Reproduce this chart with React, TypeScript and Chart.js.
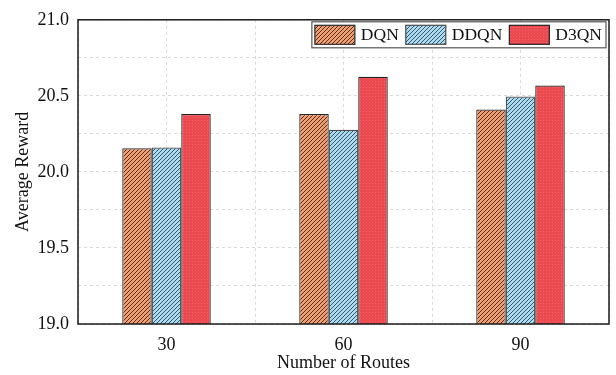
import React, { useEffect, useRef } from 'react';
import { Chart, registerables } from 'chart.js';

Chart.register(...registerables);

// Number of routes on the x axis
const routeCounts = ['30', '60', '90'];
// Average reward per method
const dqnRewards = [20.155, 20.38, 20.41];
const ddqnRewards = [20.16, 20.277, 20.495];
const d3qnRewards = [20.38, 20.626, 20.568];
const seriesNames = ['DQN', 'DDQN', 'D3QN'];
// Reward axis range and step
const rewardMin = 19.0;
const rewardMax = 21.0;
const rewardStep = 0.25;

const FONT = "'Liberation Serif', 'Times New Roman', serif";
const GRID = '#dadada';
const INK = '#111111';

function stripePattern(base: string, ink: string, size: number): CanvasPattern | string {
  const c = document.createElement('canvas');
  c.width = size;
  c.height = size;
  const g = c.getContext('2d');
  if (!g) return base;
  g.fillStyle = base;
  g.fillRect(0, 0, size, size);
  g.strokeStyle = ink;
  g.lineWidth = 1;
  g.beginPath();
  for (const k of [-size, 0, size]) {
    g.moveTo(k, size);
    g.lineTo(k + size, 0);
  }
  g.stroke();
  return g.createPattern(c, 'repeat') || base;
}

function dotPattern(base: string, dot: string, size: number): CanvasPattern | string {
  const c = document.createElement('canvas');
  c.width = size;
  c.height = size;
  const g = c.getContext('2d');
  if (!g) return base;
  g.fillStyle = base;
  g.fillRect(0, 0, size, size);
  g.fillStyle = dot;
  g.fillRect(0, 0, 1, 1);
  return g.createPattern(c, 'repeat') || base;
}

// Outline around the plotting area
const framePlugin = {
  id: 'frame',
  afterDraw(chart: any) {
    const { ctx, chartArea: a } = chart;
    ctx.save();
    ctx.strokeStyle = '#1a1a1a';
    ctx.lineWidth = 1.5;
    ctx.strokeRect(a.left, a.top, a.right - a.left, a.bottom - a.top);
    ctx.restore();
  },
};

// Boxed legend in the top-right corner of the plot
const boxLegendPlugin = {
  id: 'boxLegend',
  afterDraw(chart: any) {
    const { ctx, chartArea: a } = chart;
    const sets = chart.data.datasets;
    ctx.save();
    ctx.font = `17.5px ${FONT}`;
    const sw = 40;
    const sh = 19;
    const gapText = 6;
    const gapItem = 7;
    const padL = 3;
    const padR = 4;
    const widths = sets.map((d: any) => ctx.measureText(d.label).width);
    let total = padL + padR;
    widths.forEach((w: number, i: number) => {
      total += sw + gapText + w + (i < widths.length - 1 ? gapItem : 0);
    });
    const right = a.right - 3;
    const top = a.top + 2;
    const h = 26;
    const left = right - total;
    ctx.fillStyle = '#ffffff';
    ctx.fillRect(left, top, total, h);
    ctx.strokeStyle = '#555555';
    ctx.lineWidth = 1.2;
    ctx.strokeRect(left, top, total, h);
    let x = left + padL;
    const sy = top + (h - sh) / 2;
    sets.forEach((d: any, i: number) => {
      ctx.fillStyle = d.backgroundColor;
      ctx.fillRect(x, sy, sw, sh);
      ctx.strokeStyle = d.borderColor;
      ctx.lineWidth = 1.2;
      ctx.strokeRect(x, sy, sw, sh);
      ctx.fillStyle = INK;
      ctx.textBaseline = 'middle';
      ctx.textAlign = 'left';
      ctx.fillText(d.label, x + sw + gapText, top + h / 2 + 1);
      x += sw + gapText + widths[i] + gapItem;
    });
    ctx.restore();
  },
};

export default function App() {
  const ref = useRef<HTMLCanvasElement | null>(null);

  useEffect(() => {
    const canvas = ref.current;
    if (!canvas) return;
    Chart.defaults.font.family = FONT;
    const fills = [
      stripePattern('#f29d70', 'rgba(40,25,20,0.8)', 4),
      stripePattern('#a9dbf4', 'rgba(30,40,50,0.75)', 4),
      dotPattern('#ea4a50', '#ef6469', 3),
    ];
    const values = [dqnRewards, ddqnRewards, d3qnRewards];
    const borders = ['#2b2b2b', '#4a4a4a', '#222222'];

    const chart = new Chart(canvas, {
      type: 'bar',
      data: {
        labels: routeCounts,
        datasets: seriesNames.map((name, i) => ({
          label: name,
          data: values[i],
          backgroundColor: fills[i] as any,
          borderColor: borders[i],
          borderWidth: 1.2,
          borderSkipped: 'bottom',
          categoryPercentage: 0.5,
          barPercentage: 1.0,
        })),
      },
      options: {
        animation: false,
        responsive: false,
        maintainAspectRatio: false,
        layout: { padding: { left: 0, right: 7, top: 14, bottom: 0 } },
        plugins: {
          legend: { display: false },
          tooltip: { enabled: false },
        },
        scales: {
          x: {
            type: 'category',
            offset: true,
            grid: { display: true, offset: false, color: GRID, lineWidth: 1, drawTicks: false },
            border: { display: false, dash: [3, 3] },
            ticks: { padding: 10, color: INK, font: { size: 18 } },
            title: {
              display: true,
              text: 'Number of Routes',
              color: INK,
              font: { size: 18 },
              padding: { top: 0, bottom: 1 },
            },
            afterFit(s: any) {
              s.height = 51;
            },
          },
          x2: {
            type: 'category',
            position: 'bottom',
            offset: true,
            grid: { display: true, offset: true, color: GRID, lineWidth: 1, drawTicks: false },
            border: { display: false, dash: [3, 3] },
            ticks: { display: false },
            afterFit(s: any) {
              s.height = 0;
            },
          },
          y: {
            min: rewardMin,
            max: rewardMax,
            grid: { color: GRID, lineWidth: 1, drawTicks: false },
            border: { display: false, dash: [3, 3] },
            ticks: {
              stepSize: rewardStep,
              padding: 9,
              color: INK,
              font: { size: 18 },
              callback(v: any) {
                const n = Number(v);
                return Math.abs(n * 2 - Math.round(n * 2)) < 1e-6 ? n.toFixed(1) : '';
              },
            },
            title: {
              display: true,
              text: 'Average Reward',
              color: INK,
              font: { size: 18 },
              padding: { top: 12, bottom: 0 },
            },
            afterFit(s: any) {
              s.width = 78;
            },
          },
        },
      },
      plugins: [framePlugin, boxLegendPlugin],
    });
    return () => chart.destroy();
  }, []);

  return (
    <div style={{ position: 'absolute', left: 0, top: 0, width: 616, height: 375, background: '#ffffff' }}>
      <canvas ref={ref} width={616} height={375} style={{ width: 616, height: 375 }} />
    </div>
  );
}
